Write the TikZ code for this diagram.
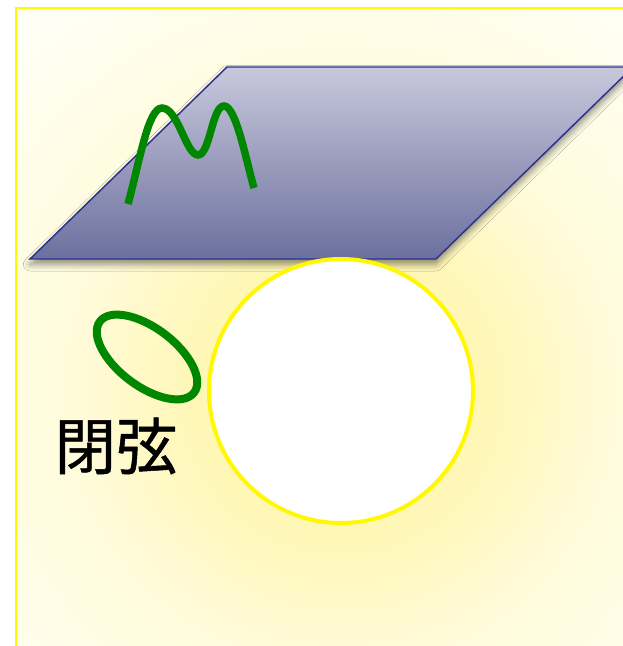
\documentclass[tikz,border=0pt]{standalone}
\usepackage{fontspec}
\newfontfamily\cjk[FakeBold=0.8]{Noto Sans CJK JP}
\usetikzlibrary{shadows.blur}
\definecolor{glowA}{RGB}{255,245,160}
\definecolor{glowB}{RGB}{255,247,182}
\definecolor{glowC}{RGB}{255,251,218}
\definecolor{glowD}{RGB}{255,255,246}
\definecolor{planetop}{RGB}{200,200,220}
\definecolor{planebot}{RGB}{108,112,158}
\definecolor{planeedge}{RGB}{46,49,146}
\definecolor{stringgreen}{RGB}{0,135,0}
\definecolor{frameyellow}{RGB}{255,248,0}
\pgfdeclareradialshading{bgglow}{\pgfpoint{0bp}{0bp}}{color(0bp)=(glowA); color(7bp)=(glowB); color(13bp)=(glowC); color(23bp)=(glowD); color(50bp)=(white)}
\tikzset{
  planestyle/.style={draw=planeedge, line width=1.1pt, top color=planetop, bottom color=planebot,
    blur shadow={shadow xshift=0pt, shadow yshift=-4pt, shadow blur radius=5pt, shadow opacity=45}},
  stringline/.style={draw=stringgreen, line width=5.6pt},
  ringline/.style={draw=stringgreen, line width=6pt},
  ballstyle/.style={draw=frameyellow, line width=3pt, fill=white},
  labelstyle/.style={font=\cjk\fontsize{46}{52}\selectfont, text=black, inner sep=0pt}
}
\begin{document}
\begin{tikzpicture}[x=0.75pt,y=-0.75pt]
\useasboundingbox (0,0) rectangle (623,646);
\clip (0,0) rectangle (623,646);
\fill[white] (0,0) rectangle (623,646);
\begin{scope}
  \clip (16,8) rectangle (680,700);
  \shade[shading=bgglow] (341,391) circle [radius=520];
\end{scope}
\draw[frameyellow, line width=2pt] (16,8) rectangle (680,700);
% brane
\path[planestyle] (30,259) -- (436,259) -- (633,67) -- (227,67) -- cycle;
% open string
\draw[stringline]
  (128,204) .. controls (140,160) and (148,108) .. (162,108)
  .. controls (178,108) and (186,155) .. (198,155)
  .. controls (210,155) and (212,106) .. (224,106)
  .. controls (236,106) and (246,160) .. (254,188);
% closed string
\draw[ringline, rotate around={-37:(147,357)}] (147,357) ellipse [x radius=59, y radius=29];
% ball
\draw[ballstyle] (341,391) circle [radius=132];
% label
\node[labelstyle] (label) at (116,446) {閉弦};
\end{tikzpicture}
\end{document}
